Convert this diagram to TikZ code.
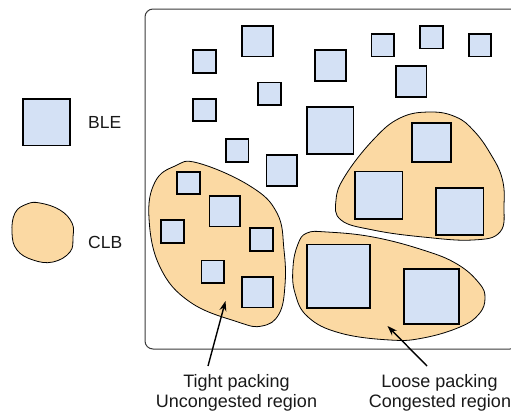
\documentclass[tikz,border=0pt]{standalone}
\usepackage{fontspec}
\setmainfont{Liberation Sans}
\usetikzlibrary{arrows.meta}
\definecolor{bleblue}{HTML}{D4E1F5}
\definecolor{clborange}{HTML}{FBD9A3}
\definecolor{framegray}{HTML}{3A3A3A}
\tikzset{
  ble/.style={draw=black, line width=1.8pt, fill=bleblue, rectangle, inner sep=0pt, minimum size=#1},
  clb/.style={draw=black, line width=0.8pt, fill=clborange},
  lbl/.style={font=\fontsize{17.5}{20}\selectfont, inner sep=0pt, text=black!90},
  biglbl/.style={font=\fontsize{18}{20}\selectfont, inner sep=0pt, text=black!90},
  arr/.style={-{Stealth[length=10pt,width=7pt]}, line width=1.4pt, black},
}
\begin{document}
\begin{tikzpicture}[x=1pt,y=-1pt]
\useasboundingbox (0,0) rectangle (511,413);
% frame
\draw[framegray, line width=1pt, rounded corners=8pt] (145,9) rectangle (518,349);
% CLB blobs
\draw[clb] plot[smooth cycle, tension=0.7] coordinates {(175,166) (198,163) (250,186) (277,213) (284,250) (285,285) (279,314) (262,326) (238,322) (190,302) (160,267) (149,218) (155,182)};
\draw[clb] plot[smooth cycle, tension=0.7] coordinates {(430,112) (456,117) (474,131) (490,153) (502,178) (504,205) (500,232) (473,240) (423,237) (373,230) (341,220) (336,200) (345,176) (373,140) (400,118)};
\draw[clb] plot[smooth cycle, tension=0.7] coordinates {(307,233) (327,232) (373,237) (423,250) (457,264) (479,283) (485,298) (479,314) (460,327) (423,338) (390,340) (340,333) (308,317) (295,293) (293,267) (298,244)};
% BLE squares
\node[ble=22.7] (s1) at (204.7,61.5) {};
\node[ble=30.7] (s2) at (257.3,41.2) {};
\node[ble=30.7] (s3) at (330.3,65.5) {};
\node[ble=22.7] (s4) at (382.8,45.2) {};
\node[ble=22.7] (s5) at (431.5,37.2) {};
\node[ble=22.7] (s6) at (480,45.2) {};
\node[ble=30.7] (s7) at (411.2,81.5) {};
\node[ble=22.7] (s8) at (204.7,110) {};
\node[ble=22.7] (s9) at (269.3,93.8) {};
\node[ble=46.7] (s10) at (330.2,130.3) {};
\node[ble=22.7] (s11) at (237.2,150.5) {};
\node[ble=30.7] (s12) at (281.8,170.7) {};
\node[ble=38.7] (s13) at (431.3,142.5) {};
\node[ble=22.7] (s14) at (188.5,183) {};
\node[ble=30.7] (s15) at (224.8,211.2) {};
\node[ble=22.7] (s16) at (172.3,231.5) {};
\node[ble=22.7] (s17) at (261.5,239.5) {};
\node[ble=22.7] (s18) at (212.8,271.8) {};
\node[ble=30.7] (s19) at (257.3,292.2) {};
\node[ble=47.2] (s20) at (378.8,195) {};
\node[ble=47.2] (s21) at (459.8,211.3) {};
\node[ble=63.2] (s22) at (338.2,276) {};
\node[ble=55.2] (s23) at (431.5,296.2) {};
% legend
\node[ble=46.7] (legble) at (46.7,122.2) {};
\node[lbl, anchor=base west] (bletxt) at (88,128.5) {BLE};
\draw[clb] plot[smooth cycle, tension=0.7] coordinates {(27,204) (40,203) (60,210) (72,223) (73,237) (70,252) (53,262) (33,260) (17,250) (12,233) (15,213)};
\node[lbl, anchor=base west] (clbtxt) at (88,248) {CLB};
% labels
\node[biglbl, anchor=base] (tight1) at (236.5,387.3) {Tight packing};
\node[biglbl, anchor=base] (tight2) at (236.5,407.5) {Uncongested region};
\node[biglbl, anchor=base] (loose1) at (439.5,387.3) {Loose packing};
\node[biglbl, anchor=base] (loose2) at (440,407.5) {Congested region};
% arrows
\coordinate (ta) at (208,366);
\coordinate (tb) at (225.5,301);
\coordinate (la) at (427,366);
\coordinate (lb) at (387.5,326);
\draw[arr] (ta) -- (tb);
\draw[arr] (la) -- (lb);
\end{tikzpicture}
\end{document}
